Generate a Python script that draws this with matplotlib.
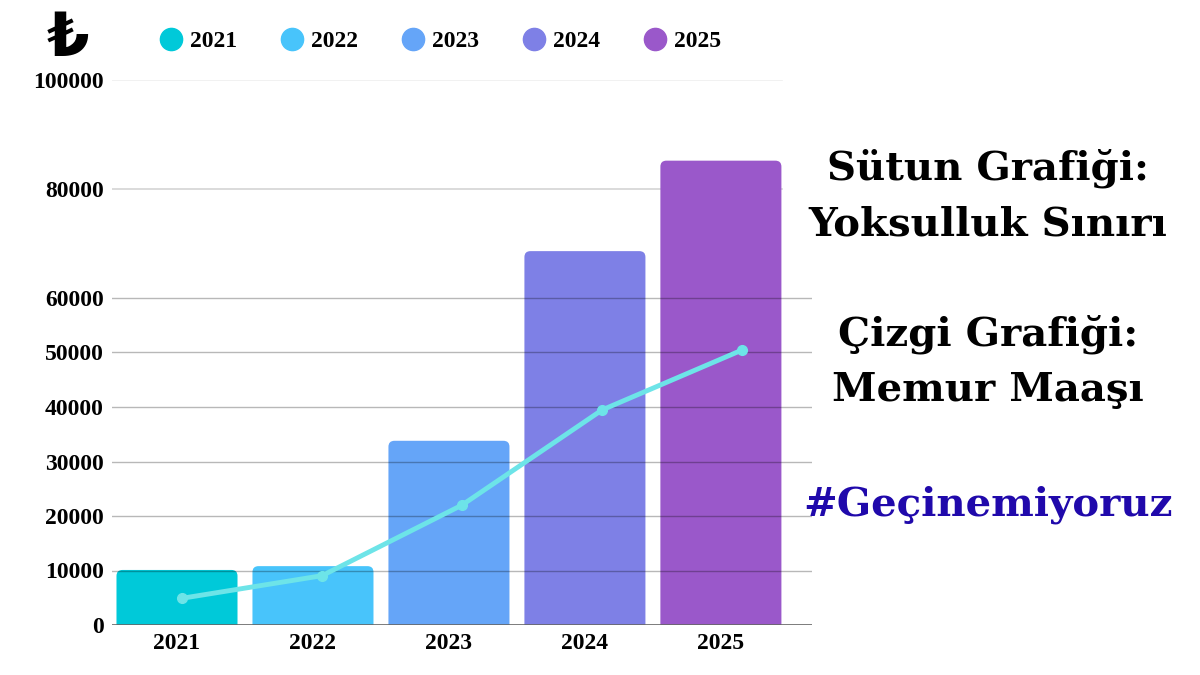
import matplotlib.pyplot as plt
from matplotlib.lines import Line2D
from matplotlib.patches import FancyBboxPatch

# --- data ---
years = ['2021', '2022', '2023', '2024', '2025']
poverty_line = [10100, 10800, 33800, 68600, 85200]   # bars: Yoksulluk Sınırı
civil_salary = [4900, 9050, 22000, 39450, 50450]    # line: Memur Maaşı
y_ticks = [0, 10000, 20000, 30000, 40000, 50000, 60000, 80000, 100000]
bar_colors = ['#00c9d9', '#48c4fb', '#65a5f8', '#7e80e6', '#9a58ca']
line_color = '#6de4e8'

tick_font = dict(family='Liberation Serif', weight='bold', size=17)

fig = plt.figure(figsize=(12, 6.75), dpi=100)
ax = fig.add_axes([112 / 1200, 50 / 675, 700 / 1200, 545 / 675])

# bars sit on their own x scale (slightly narrower than the axes)
x = list(range(len(years)))
ax.set_xlim(-0.478, 4.67)
ax.set_ylim(0, 100000)
bars = ax.bar(x, poverty_line, width=0.89, color=bar_colors)
# swap the plain bars for ones with rounded corners (bottom corners hidden below 0)
px_x = 1 / 136.0          # x data units per pixel
px_y = 100000 / 545.0     # y data units per pixel
for b in bars:
    x0, w, h = b.get_x(), b.get_width(), b.get_height()
    rb = FancyBboxPatch((x0, -8 * px_y), w, h + 8 * px_y,
                        boxstyle=f'round,pad=0,rounding_size={6 * px_x}',
                        mutation_aspect=px_y / px_x,
                        fc=b.get_facecolor(), ec='none', zorder=2)
    b.remove()
    ax.add_patch(rb)

# grid lines: the top two stop at the last bar, the rest run full width
for t in y_ticks[1:]:
    if t >= 80000:
        ax.axhline(t, xmax=670 / 700, color='#d4d4d4' if t == 80000 else '#efefef', lw=1.2, zorder=1)
    else:
        ax.axhline(t, color='black', lw=1.0, alpha=0.28, zorder=3)
ax.axhline(0, color='#666666', lw=1.2, zorder=3)

ax.set_yticks(y_ticks)
ax.set_yticklabels([str(t) for t in y_ticks], fontdict=tick_font)
ax.set_xticks(x)
ax.set_xticklabels(years, fontdict=tick_font)
ax.tick_params(length=0, pad=6)
for s in ax.spines.values():
    s.set_visible(False)

# line on a twin x axis spread over the full width
ax2 = ax.twiny()
ax2.plot(x, civil_salary, color=line_color, lw=3.5, marker='o', ms=7, zorder=5)
ax2.set_xlim(-0.5, 4.5)
ax2.set_ylim(0, 100000)
ax2.set_xticks([])
for s in ax2.spines.values():
    s.set_visible(False)

# legend with round markers
handles = [Line2D([], [], marker='o', ls='', ms=16, color=c) for c in bar_colors]
fig.legend(handles, years, loc='center left', bbox_to_anchor=(136 / 1200, 1 - 41 / 675),
           ncol=5, frameon=False, prop=tick_font, handletextpad=0.2, columnspacing=1.73,
           handlelength=1.2)

# lira sign
fig.text(68 / 1200, 1 - 40 / 675, '₺', ha='center', va='center', fontsize=44,
         fontweight='bold', family='DejaVu Sans')

# right hand notes
note = dict(ha='center', va='center', fontsize=29, fontweight='bold', family='DejaVu Serif')
fig.text(988 / 1200, 1 - 196 / 675, 'Sütun Grafiği:\nYoksulluk Sınırı', linespacing=1.57, **note)
fig.text(988 / 1200, 1 - 362 / 675, 'Çizgi Grafiği:\nMemur Maaşı', linespacing=1.57, **note)
fig.text(988 / 1200, 1 - 505 / 675, '#Geçinemiyoruz', color='#2009ab', **note)

fig.savefig('out.png', dpi=100)
